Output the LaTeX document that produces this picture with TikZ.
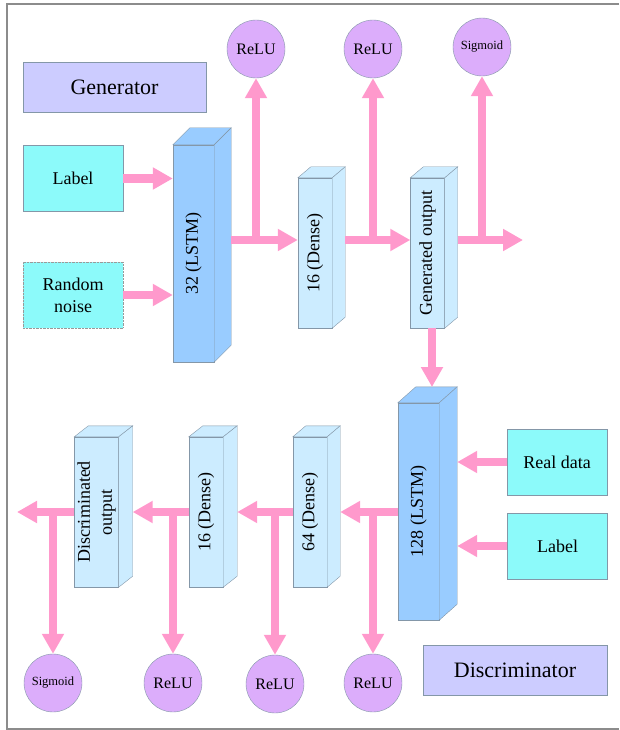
\documentclass[tikz,border=0pt]{standalone}
\usepackage{fontspec}
\setmainfont{Liberation Serif}
\newfontfamily\diagfont{Liberation Serif}
\usepackage{graphicx}
\usetikzlibrary{positioning,arrows.meta}

\definecolor{arrowPink}{HTML}{FF99CC}
\definecolor{lstmBlue}{HTML}{99CCFF}
\definecolor{denseBlue}{HTML}{CCECFF}
\definecolor{inputCyan}{HTML}{8CFAFA}
\definecolor{titleLavender}{HTML}{CCCCFF}
\definecolor{actPurple}{HTML}{DCADFB}
\definecolor{edgeGray}{HTML}{8497A8}
\definecolor{frameGray}{HTML}{8C8C8C}

\newcommand{\vlabel}[1]{\rotatebox{90}{#1}}

\begin{document}
\begin{tikzpicture}[x=1pt, y=-1pt, >=latex]

    %
    % Styles for layers, activations and data flow
    %
    \tikzstyle{bigFont} = [font={\diagfont\fontsize{18}{22}\selectfont}]
    \tikzstyle{bbox} = [draw=edgeGray, rectangle, inner sep=0pt, align=center]
    \tikzstyle{title} = [bbox, fill=titleLavender, font={\diagfont\fontsize{22}{26}\selectfont},
                          minimum width=183pt, minimum height=50pt]
    \tikzstyle{dataIn} = [bbox, bigFont, fill=inputCyan, minimum width=100pt, minimum height=66pt]
    \tikzstyle{lstm} = [bbox, bigFont, fill=lstmBlue, minimum width=41pt, minimum height=217pt]
    \tikzstyle{dense} = [bbox, bigFont, fill=denseBlue, minimum width=34pt, minimum height=150pt]
    \tikzstyle{act} = [circle, draw=edgeGray, fill=actPurple, minimum size=58pt, inner sep=0pt,
                        font={\diagfont\fontsize{16}{18}\selectfont}]
    \tikzstyle{sig} = [act, font={\diagfont\fontsize{12.5}{14}\selectfont}]
    \tikzstyle{dataFlow} = [draw=arrowPink, line width=8pt, -{Triangle[length=20pt, width=21pt]}]
    \tikzstyle{frame} = [draw=frameGray, line width=1.5pt]

    \useasboundingbox (0,0) rectangle (619,730);
    \draw[frame] (619,4) -- (7,4) -- (7,729) -- (619,729);

    %
    % Generator
    %
    \node[title, name=gen] at (114.5,87) {Generator};
    \node[dataIn, name=labelG] at (73,178.5) {Label};
    \node[dataIn, name=noise, densely dotted, draw=black!40] at (73,295) {Random\\noise};
    \node[lstm, name=lstmG] at (193.5,253.5) {\vlabel{32 (LSTM)}};
    \node[dense, name=denseG] at (315,253) {\vlabel{16 (Dense)}};
    \node[dense, name=genOut] at (427.5,253) {\vlabel{Generated output}};
    \node[act, name=reluG1] at (256,49) {ReLU};
    \node[act, name=reluG2] at (373,49) {ReLU};
    \node[sig, name=sigG] at (482,47) {Sigmoid};

    %
    % Discriminator
    %
    \node[lstm, name=lstmD] at (418.5,511.5) {\vlabel{128 (LSTM)}};
    \node[dataIn, name=realData] at (557,462) {Real data};
    \node[dataIn, name=labelD] at (557.5,546) {Label};
    \node[dense, name=dense64] at (310,512) {\vlabel{64 (Dense)}};
    \node[dense, name=dense16] at (206,512) {\vlabel{16 (Dense)}};
    \node[dense, name=discOut, minimum width=41pt] at (96.5,512)
        {\vlabel{\begin{tabular}{@{}c@{}}Discriminated\\output\end{tabular}}};
    \node[title, name=disc, minimum width=184pt] at (515,670) {Discriminator};
    \node[act, name=reluD1] at (373,683) {ReLU};
    \node[act, name=reluD2] at (275,684) {ReLU};
    \node[act, name=reluD3] at (173,683) {ReLU};
    \node[sig, name=sigD] at (53,683) {Sigmoid};

    %
    % Depth faces of the layers
    %
    \foreach \n/\dx/\dy/\c in {lstmG/17/17/lstmBlue, denseG/13/11/denseBlue, genOut/13/11/denseBlue,
        lstmD/18/16/lstmBlue, dense64/13/11/denseBlue, dense16/14/11/denseBlue, discOut/14/11/denseBlue} {
      \filldraw[fill=\c, draw=edgeGray] (\n.north west) -- ++(\dx,-\dy)
        -- ([shift={(\dx,-\dy)}]\n.north east) -- (\n.north east) -- cycle;
      \filldraw[fill=\c, draw=edgeGray] (\n.north east) -- ++(\dx,-\dy)
        -- ([shift={(\dx,-\dy)}]\n.south east) -- (\n.south east) -- cycle;
      \coordinate (\n-back) at ([xshift=\dx pt]\n.east);
    }

    %
    % Connect layers via data flow
    %
    \coordinate (jG1) at (256,240);
    \coordinate (jG2) at (373,240);
    \coordinate (jG3) at (482,240);
    \coordinate (outG) at (523,240);
    \coordinate (topD) at (432,387);
    \coordinate (jD1) at (373,512);
    \coordinate (jD2) at (275,512);
    \coordinate (jD3) at (173,512);
    \coordinate (jD4) at (53,512);
    \coordinate (outD) at (17,512);

    \draw[dataFlow] (labelG.east) -- (labelG.east -| lstmG.west);
    \draw[dataFlow] (noise.east) -- (noise.east -| lstmG.west);
    \draw[dataFlow] (lstmG-back |- jG1) -- (jG1 -| denseG.west);
    \draw[dataFlow] (jG1) -- (reluG1);
    \draw[dataFlow] (denseG-back |- jG2) -- (jG2 -| genOut.west);
    \draw[dataFlow] (jG2) -- (reluG2);
    \draw[dataFlow] (genOut-back |- jG3) -- (outG);
    \draw[dataFlow] (jG3) -- (sigG);
    \draw[dataFlow] (topD |- genOut.south) -- (topD);
    \draw[dataFlow] (realData.west) -- (realData.west -| lstmD-back);
    \draw[dataFlow] (labelD.west) -- (labelD.west -| lstmD-back);
    \draw[dataFlow] (jD1 -| lstmD.west) -- (jD1 -| dense64-back);
    \draw[dataFlow] (jD1) -- (reluD1);
    \draw[dataFlow] (jD2 -| dense64.west) -- (jD2 -| dense16-back);
    \draw[dataFlow] (jD2) -- (reluD2);
    \draw[dataFlow] (jD3 -| dense16.west) -- (jD3 -| discOut-back);
    \draw[dataFlow] (jD3) -- (reluD3);
    \draw[dataFlow] (jD4 -| discOut.west) -- (outD);
    \draw[dataFlow] (jD4) -- (sigD);
  \end{tikzpicture}
\end{document}
